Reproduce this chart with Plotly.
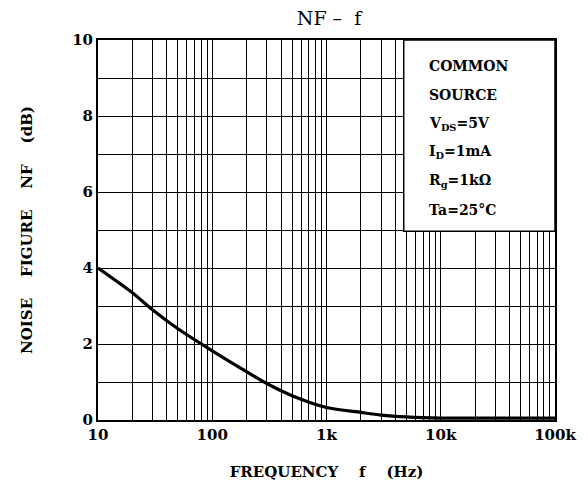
import plotly.graph_objects as go

# Data
freq_hz = [10, 20, 30, 50, 100, 200, 300, 500, 1000, 2000, 3000, 5000, 10000, 20000, 50000, 100000]
nf_db = [4.0, 3.35, 2.9, 2.4, 1.82, 1.27, 0.96, 0.64, 0.33, 0.2, 0.13, 0.08, 0.05, 0.05, 0.05, 0.05]

x_major_vals = [10, 100, 1000, 10000, 100000]
x_major_text = ["10", "100", "1k", "10k", "100k"]
x_minor_vals = [m * 10 ** e for e in range(1, 5) for m in range(2, 10)]
y_major_vals = [0, 2, 4, 6, 8, 10]
y_major_text = ["0", "2", "4", "6", "8", "10"]
y_minor_vals = [1, 3, 5, 7, 9]

cond_lines = ["COMMON", "SOURCE", "V<sub>DS</sub>=5V", "I<sub>D</sub>=1mA",
              "R<sub>g</sub>=1kΩ", "Ta=25°C"]

FONT = "DejaVu Serif"
GRID = dict(gridcolor="black", gridwidth=1.3)
SP = "\u00a0" * 4

fig = go.Figure()
fig.add_trace(go.Scatter(
    x=freq_hz, y=nf_db, mode="lines",
    line=dict(color="black", width=3.2, shape="spline", smoothing=0.8),
    hoverinfo="skip", showlegend=False,
))

fig.update_layout(
    width=580, height=483,
    margin=dict(l=90, r=28, t=32, b=71),
    paper_bgcolor="white", plot_bgcolor="white",
    title=dict(text="NF\u00a0\u2013\u00a0\u00a0f", x=(321) / 580, xanchor="center", y=1 - 10 / 483,
               yanchor="middle", font=dict(family=FONT, size=19, color="black")),
    font=dict(family=FONT, color="black"),
)

fig.update_xaxes(
    type="log", range=[1, 5],
    tickvals=x_major_vals, ticktext=x_major_text,
    tickfont=dict(family=FONT, size=15, color="black", weight="bold"),
    showgrid=True, **GRID,
    minor=dict(tickvals=x_minor_vals, showgrid=True, ticks="", **GRID),
    showline=True, linecolor="black", linewidth=2, mirror=True,
    ticks="", zeroline=False,
    title=dict(text="FREQUENCY" + SP + "f" + SP + "(Hz)",
               font=dict(family=FONT, size=15, color="black", weight="bold"), standoff=23),
)
fig.update_yaxes(
    range=[0, 10],
    tickvals=y_major_vals, ticktext=y_major_text,
    tickfont=dict(family=FONT, size=15, color="black", weight="bold"),
    showgrid=True, **GRID,
    minor=dict(tickvals=y_minor_vals, showgrid=True, ticks="", **GRID),
    showline=True, linecolor="black", linewidth=2, mirror=True,
    ticks="", zeroline=False,
    title=dict(text="NOISE" + SP + "FIGURE" + SP + "NF" + SP + "(dB)",
               font=dict(family=FONT, size=15, color="black", weight="bold"), standoff=36),
)

# Condition box (white, covering the grid)
fig.add_shape(type="rect", xref="x domain", yref="y domain",
              x0=0.669, x1=1.0, y0=0.497, y1=1.0,
              fillcolor="white", line=dict(color="black", width=1.5), layer="above")

for i, t in enumerate(cond_lines):
    fig.add_annotation(text=t, xref="x domain", yref="y domain",
                       x=0.719, y=(420 - 66 - i * 28.8) / 380,
                       xanchor="left", yanchor="middle", showarrow=False,
                       font=dict(family=FONT, size=14, color="black", weight="bold"))

fig.write_html("out.html")
